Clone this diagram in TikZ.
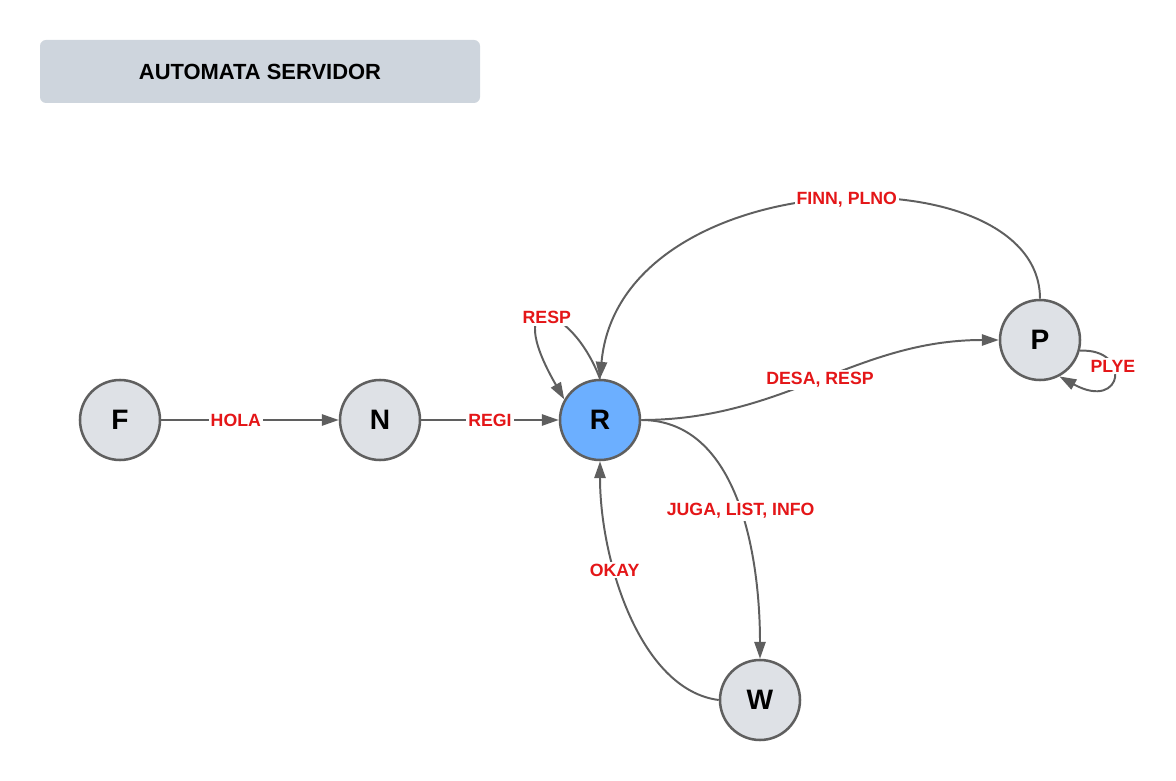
\documentclass[tikz,border=0pt]{standalone}
\usepackage{fontspec}
\setmainfont{Liberation Sans}
\usetikzlibrary{arrows,arrows.meta,shapes,positioning}

\definecolor{linegray}{RGB}{95,95,95}
\definecolor{statefill}{RGB}{222,225,230}
\definecolor{readyfill}{RGB}{108,175,255}
\definecolor{titlefill}{RGB}{206,213,221}
\definecolor{labelred}{RGB}{228,22,24}

\tikzset{
  state/.style={draw=linegray, circle, line width=1.8pt, fill=statefill,
    minimum size=2cm, inner sep=0pt, font=\fontsize{20}{24}\selectfont\bfseries},
  trans/.style={draw=linegray, line width=1.4pt,
    -{Triangle[length=12pt,width=8pt]}},
  msg/.style={fill=white, text=labelred, inner sep=1.5pt,
    font=\fontsize{12.6}{14}\selectfont\bfseries}
}

\begin{document}
\begin{tikzpicture}
			\useasboundingbox (0,0) rectangle (29.4,19.5);
			\node[fill=titlefill, rounded corners=0.15cm, minimum width=11cm, minimum height=1.575cm,
			  font=\fontsize{15.6}{18}\selectfont\bfseries] (title) at (6.5,17.7125) {AUTOMATA SERVIDOR};
			
			\node[state] (F) at (3,9) {F};
			\node[state] (N) at (9.5,9) {N};
			\node[state, fill=readyfill] (R) at (15,9) {R};
			\node[state] (P) at (26,11) {P};
			\node[state] (W) at (19,2) {W};
			
			\draw[trans] (F) -- node[msg, pos=0.42] {HOLA} (N);
			\draw[trans] (N) -- node[msg] {REGI} (R);
			\draw[trans] (R.east) to[out=0, in=180] node[msg] {DESA, RESP} (P.west);
			\draw[trans] (P.north) .. controls (26,15.75) and (15.5,15.5) .. node[msg, pos=0.47] {FINN, PLNO} (R.north);
			\draw[trans] (R.east) .. controls (18.5,9) and (19,5.5) .. node[msg, pos=0.53] {JUGA, LIST, INFO} (W.north);
			\draw[trans] (W.west) .. controls (16,2.25) and (15,5.5) .. node[msg, pos=0.65] {OKAY} (R.south);
			
			% self loops
			\draw[trans] (R.north) .. controls (14.25,12) and (12.5,12.3) .. node[msg] {RESP} (R.150);
			\draw[trans] (P.-15) .. controls (28.3,10.8) and (28.1,9.2) .. node[msg, pos=0.36] {PLYE} (P.-62);
		\end{tikzpicture}
\end{document}
